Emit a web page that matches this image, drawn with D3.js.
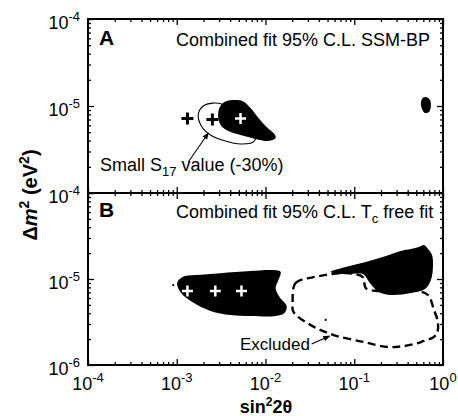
<!DOCTYPE html>
<html>
<head>
<meta charset="utf-8">
<script src="https://cdn.jsdelivr.net/npm/d3@7"></script>
<style>
body { margin: 0; background: #fff; }
text { font-family: "Liberation Sans", Arial, Helvetica, sans-serif; fill: #000; }
</style>
</head>
<body>
<div id="vis"></div>
<script>
// ---- data (sin^2 2theta, delta m^2 in eV^2) ----
const X_EXP = [-4, -3, -2, -1, 0];
const Y_EXP_A = [-4, -5];
const Y_EXP_B = [-4, -5, -6];

// panel A : combined fit 95% C.L. SSM-BP
const A_MSW = [[2.94e-3, 7.28e-6], [3.02e-3, 9.48e-6], [3.44e-3, 1.11e-5], [4.24e-3, 1.17e-5],
  [5.50e-3, 1.14e-5], [6.78e-3, 9.48e-6], [8.34e-3, 7.28e-6], [1.03e-2, 5.74e-6],
  [1.26e-2, 4.76e-6], [1.30e-2, 4.29e-6], [1.08e-2, 3.96e-6], [7.71e-3, 4.18e-6],
  [5.23e-3, 4.64e-6], [3.82e-3, 5.16e-6], [3.18e-3, 5.89e-6]];
const A_LMA = [[0.643, 1.27e-5], [0.713, 1.17e-5], [0.731, 1.0e-5], [0.695, 8.53e-6],
  [0.627, 8.31e-6], [0.580, 9.24e-6], [0.564, 1.08e-5], [0.594, 1.24e-5]];
const A_SMALL_S17 = [[1.75e-3, 8.09e-6], [1.99e-3, 1.0e-5], [2.52e-3, 1.08e-5], [3.27e-3, 1.05e-5],
  [4.24e-3, 8.99e-6], [5.94e-3, 6.55e-6], [7.71e-3, 4.76e-6], [7.31e-3, 3.86e-6],
  [5.23e-3, 3.66e-6], [3.53e-3, 3.96e-6], [2.40e-3, 4.64e-6], [1.89e-3, 5.89e-6]];
const A_BEST_BLACK = [[1.32e-3, 7.2e-6], [2.52e-3, 7.0e-6]];
const A_BEST_WHITE = [[5.23e-3, 7.2e-6]];
const A_ARROW = [[1.35e-3, 2.27e-6], [2.27e-3, 4.90e-6]];

// panel B : combined fit 95% C.L. Tc free fit
const B_MSW = [[1.01e-3, 8.98e-6], [1.15e-3, 1.05e-5], [1.62e-3, 1.11e-5], [3.10e-3, 1.17e-5],
  [6.78e-3, 1.24e-5], [1.20e-2, 1.27e-5], [1.48e-2, 1.21e-5], [1.40e-2, 9.73e-6],
  [1.30e-2, 7.85e-6], [1.44e-2, 6.18e-6], [1.73e-2, 4.85e-6], [1.64e-2, 4.02e-6],
  [1.30e-2, 3.71e-6], [6.78e-3, 3.71e-6], [4.03e-3, 3.81e-6], [2.40e-3, 4.25e-6],
  [1.50e-3, 5.40e-6], [1.12e-3, 6.87e-6]];
const B_LMA = [[5.42e-2, 1.21e-5], [8.02e-2, 1.38e-5], [0.135, 1.58e-5], [0.227, 1.85e-5],
  [0.335, 2.12e-5], [0.435, 2.23e-5], [0.536, 2.36e-5], [0.610, 2.48e-5], [0.678, 2.23e-5],
  [0.752, 1.90e-5], [0.771, 1.42e-5], [0.731, 9.73e-6], [0.627, 7.65e-6], [0.435, 6.87e-6],
  [0.258, 6.52e-6], [0.189, 7.06e-6], [0.150, 8.98e-6], [0.125, 1.14e-5], [8.02e-2, 1.14e-5]];
const B_EXCLUDED = [[2.02e-2, 5.40e-6], [2.18e-2, 8.98e-6], [3.48e-2, 1.05e-5], [8.45e-2, 1.17e-5],
  [0.125, 1.05e-5], [0.135, 7.85e-6], [0.185, 7.25e-6], [0.335, 7.25e-6], [0.522, 7.25e-6],
  [0.678, 6.52e-6], [0.791, 4.36e-6], [0.879, 3.08e-6], [0.834, 2.23e-6], [0.564, 1.85e-6],
  [0.362, 1.66e-6], [0.239, 1.62e-6], [0.128, 1.85e-6], [5.86e-2, 2.23e-6], [3.22e-2, 2.92e-6],
  [2.07e-2, 4.13e-6]];
const B_BEST = [[1.32e-3, 7.25e-6], [2.72e-3, 7.25e-6], [5.36e-3, 7.25e-6]];
const B_DOTS = [[4.77e-2, 3.34e-6], [9.12e-4, 8.51e-6]];
const B_ARROW = [[3.31e-2, 1.75e-6], [5.28e-2, 2.17e-6]];

// ---- layout ----
const WIDTH = 458, HEIGHT = 416;
const LEFT = 88, RIGHT = 443, TOP = 19, MID = 193, BOTTOM = 365;

const SVG = d3.select("#vis").append("svg").attr("width", WIDTH).attr("height", HEIGHT);

SVG.append("defs").append("marker")
    .attr("id", "head")
    .attr("viewBox", "0 0 10 10")
    .attr("refX", 9).attr("refY", 5)
    .attr("markerWidth", 7).attr("markerHeight", 7)
    .attr("markerUnits", "userSpaceOnUse")
    .attr("orient", "auto")
  .append("path").attr("d", "M0,1 L10,5 L0,9 z").attr("fill", "#000");

const x = d3.scaleLog().domain([1e-4, 1]).range([LEFT, RIGHT]);
const yA = d3.scaleLog().domain([1e-6, 1e-4]).range([MID, TOP]);
const yB = d3.scaleLog().domain([1e-6, 1e-4]).range([BOTTOM, MID]);

const isMajor = v => Math.abs(Math.log10(v) - Math.round(Math.log10(v))) < 1e-6;

function blob(g, y, pts, fill, stroke) {
  const line = d3.line().x(d => x(d[0])).y(d => y(d[1])).curve(d3.curveCatmullRomClosed.alpha(0.5));
  return g.append("path").attr("d", line(pts))
      .attr("fill", fill).attr("stroke", stroke || "none");
}

function crosses(g, y, pts, color, size, w) {
  g.selectAll(null).data(pts).enter().append("path")
      .attr("d", d => `M${x(d[0]) - size / 2},${y(d[1])}h${size}M${x(d[0])},${y(d[1]) - size / 2}v${size}`)
      .attr("stroke", color).attr("stroke-width", w);
}

function arrow(g, y, pts) {
  g.append("line")
      .attr("x1", x(pts[0][0])).attr("y1", y(pts[0][1]))
      .attr("x2", x(pts[1][0])).attr("y2", y(pts[1][1]))
      .attr("stroke", "#000").attr("stroke-width", 1.1)
      .attr("marker-end", "url(#head)");
}

function frame(y) {
  const g = SVG.append("g");
  const r = y.range();
  const xt = x.ticks(), yt = y.ticks();
  const axes = [
    [d3.axisBottom(x), `translate(0,${r[0]})`, xt],
    [d3.axisTop(x), `translate(0,${r[1]})`, xt],
    [d3.axisLeft(y), `translate(${LEFT},0)`, yt],
    [d3.axisRight(y), `translate(${RIGHT},0)`, yt]
  ];
  axes.forEach(([ax, tr, ticks]) => {
    [[ticks.filter(v => !isMajor(v)), 3], [ticks.filter(isMajor), 6]].forEach(([vals, len]) => {
      const a = g.append("g").attr("transform", tr)
          .call(ax.tickValues(vals).tickSize(-len).tickSizeOuter(0).tickFormat(""));
      a.select(".domain").remove();
      a.selectAll("line").attr("stroke", "#000").attr("stroke-width", 1.3);
    });
  });
  g.append("rect")
      .attr("x", LEFT).attr("y", r[1])
      .attr("width", RIGHT - LEFT).attr("height", r[0] - r[1])
      .attr("fill", "none").attr("stroke", "#000").attr("stroke-width", 2);
}

function powerLabel(g, px, py, exp, anchor) {
  const t = g.append("text").attr("x", px).attr("y", py)
      .attr("text-anchor", anchor).attr("font-size", 18);
  t.append("tspan").text("10");
  t.append("tspan").attr("dy", -8).attr("font-size", 13).text(String(exp));
}

// ---- panel A ----
const gA = SVG.append("g");
SVG.append("clipPath").attr("id", "clipA").append("rect")
    .attr("x", LEFT).attr("y", TOP).attr("width", RIGHT - LEFT).attr("height", MID - TOP);
gA.attr("clip-path", "url(#clipA)");
blob(gA, yA, A_SMALL_S17, "none", "#000").attr("stroke-width", 1.1);
blob(gA, yA, A_MSW, "#000");
blob(gA, yA, A_LMA, "#000");
crosses(gA, yA, A_BEST_BLACK, "#000", 12, 3);
crosses(gA, yA, A_BEST_WHITE, "#fff", 11, 2.5);
arrow(gA, yA, A_ARROW);

// ---- panel B ----
const gB = SVG.append("g");
SVG.append("clipPath").attr("id", "clipB").append("rect")
    .attr("x", LEFT).attr("y", MID).attr("width", RIGHT - LEFT).attr("height", BOTTOM - MID);
gB.attr("clip-path", "url(#clipB)");
blob(gB, yB, B_EXCLUDED, "none", "#000")
    .attr("stroke-width", 2.4).attr("stroke-dasharray", "8,4.5");
blob(gB, yB, B_MSW, "#000");
blob(gB, yB, B_LMA, "#000");
crosses(gB, yB, B_BEST, "#fff", 11, 2.5);
gB.selectAll(null).data(B_DOTS).enter().append("circle")
    .attr("cx", d => x(d[0])).attr("cy", d => yB(d[1])).attr("r", 1.1).attr("fill", "#000");
arrow(gB, yB, B_ARROW);

frame(yA);
frame(yB);

// ---- tick labels ----
const labels = SVG.append("g");
X_EXP.forEach(e => powerLabel(labels, x(Math.pow(10, e)), BOTTOM + 25, e, "middle"));
Y_EXP_A.forEach(e => powerLabel(labels, LEFT - 8, yA(Math.pow(10, e)) + 10, e, "end"));
Y_EXP_B.forEach(e => powerLabel(labels, LEFT - 8, yB(Math.pow(10, e)) + 10, e, "end"));

// ---- annotations ----
SVG.append("text").attr("x", 99).attr("y", 45).attr("font-size", 21).attr("font-weight", "bold").text("A");
SVG.append("text").attr("x", 99).attr("y", 217).attr("font-size", 21).attr("font-weight", "bold").text("B");

SVG.append("text").attr("x", 176).attr("y", 46).attr("font-size", 18).text("Combined fit 95% C.L. SSM-BP");

const tB = SVG.append("text").attr("x", 176).attr("y", 218).attr("font-size", 18);
tB.append("tspan").text("Combined fit 95% C.L. T");
tB.append("tspan").attr("dy", 5).attr("font-size", 13).text("c");
tB.append("tspan").attr("dy", -5).text(" free fit");

const tS = SVG.append("text").attr("x", 100).attr("y", 171).attr("font-size", 18);
tS.append("tspan").text("Small S");
tS.append("tspan").attr("dy", 5).attr("font-size", 13).text("17");
tS.append("tspan").attr("dy", -5).text(" value (-30%)");

SVG.append("text").attr("x", 240).attr("y", 350).attr("font-size", 17).text("Excluded");

// ---- axis titles ----
const tx = SVG.append("text").attr("x", 266).attr("y", 413)
    .attr("text-anchor", "middle").attr("font-size", 18).attr("font-weight", "bold");
tx.append("tspan").text("sin");
tx.append("tspan").attr("dy", -7).attr("font-size", 12).text("2");
tx.append("tspan").attr("dy", 7).text("2\u03b8");

const ty = SVG.append("text").attr("transform", "translate(37,195) rotate(-90)")
    .attr("text-anchor", "middle").attr("font-size", 20).attr("font-weight", "bold");
ty.append("tspan").text("\u0394");
ty.append("tspan").attr("font-style", "italic").text("m");
ty.append("tspan").attr("dy", -8).attr("font-size", 14).text("2");
ty.append("tspan").attr("dy", 8).text(" (eV");
ty.append("tspan").attr("dy", -8).attr("font-size", 14).text("2");
ty.append("tspan").attr("dy", 8).text(")");
</script>
</body>
</html>
